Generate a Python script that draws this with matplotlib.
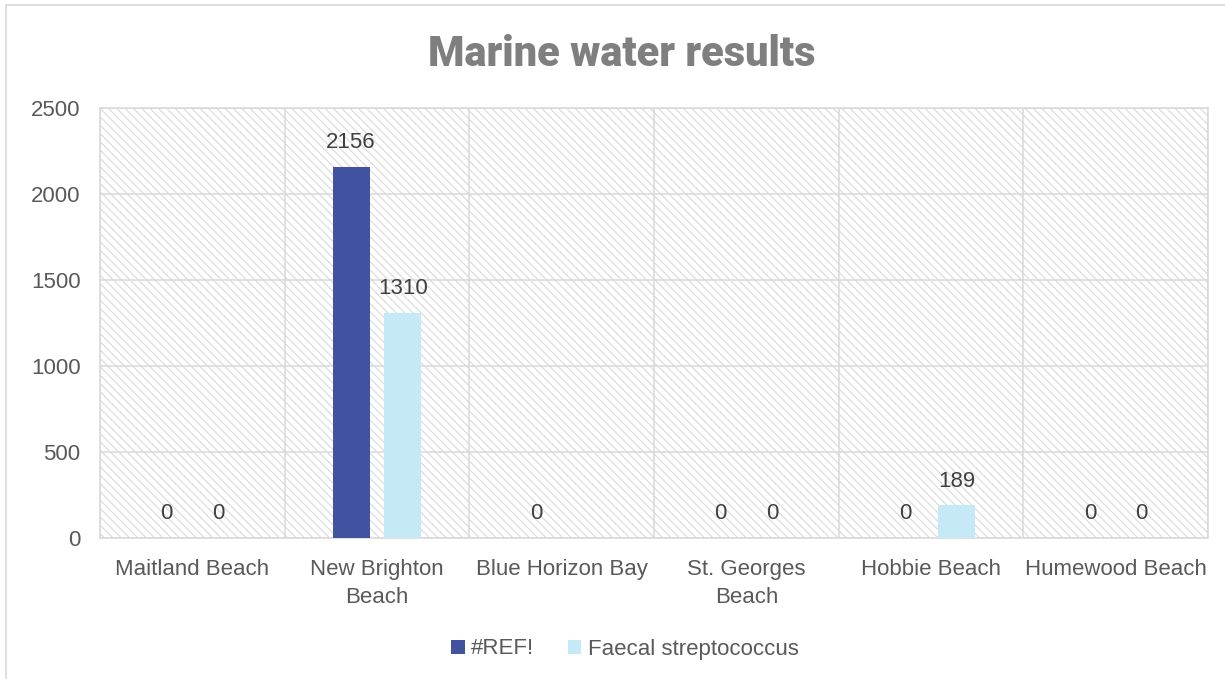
import matplotlib
matplotlib.use("Agg")
import matplotlib.pyplot as plt
from matplotlib.patches import Rectangle, Patch
import numpy as np

# Chart data
beaches = ["Maitland Beach", "New Brighton\nBeach", "Blue Horizon Bay",
           "St. Georges\nBeach", "Hobbie Beach", "Humewood Beach"]
series_names = ["#REF!", "Faecal streptococcus"]
ref_values = [0, 2156, 0, 0, 0, 0]
faecal_values = [0, 1310, np.nan, 0, 189, 0]
y_ticks = [0, 500, 1000, 1500, 2000, 2500]

dark_blue = "#4152a0"
light_blue = "#c5e9f6"
grid_gray = "#d9d9d9"
text_gray = "#595959"
fs = 16

plt.rcParams["font.family"] = ["Liberation Sans", "DejaVu Sans"]
plt.rcParams["hatch.linewidth"] = 0.8

fig = plt.figure(figsize=(12.25, 6.79), dpi=100)
ax = fig.add_axes([100 / 1225, 1 - 538 / 679, 1108 / 1225, 430 / 679])

# Outer chart frame
fig.patches.append(Rectangle((6 / 1225, -0.01), 1.02, 1 - 5 / 679 + 0.01,
                             transform=fig.transFigure, fill=False,
                             edgecolor=grid_gray, linewidth=1.2, zorder=0))

# Hatched plot area
ax.add_patch(Rectangle((0, 0), 1, 1, transform=ax.transAxes, fill=False,
                       hatch="\\\\\\\\", edgecolor=grid_gray, linewidth=0,
                       zorder=0))

x = np.arange(len(beaches))
width = 0.2
offset = 0.14
series = [ref_values, faecal_values]
colors = [dark_blue, light_blue]
for i, (vals, col) in enumerate(zip(series, colors)):
    xs = x + (-offset if i == 0 else offset)
    vals_arr = np.array(vals, dtype=float)
    ax.bar(xs, np.nan_to_num(vals_arr), width=width, color=col, zorder=3,
           linewidth=0)
    for xi, v in zip(xs, vals_arr):
        if np.isnan(v):
            continue
        ax.annotate(f"{int(v)}", (xi, v), xytext=(0, 17.5),
                    textcoords="offset points", ha="center", va="center",
                    fontsize=fs, color="#404040", zorder=4)

ax.set_xlim(-0.5, len(beaches) - 0.5)
ax.set_ylim(0, 2500)
ax.set_yticks(y_ticks)
ax.set_xticks(x)
ax.set_xticklabels(beaches, linespacing=1.45)
ax.set_xticks(np.arange(len(beaches) + 1) - 0.5, minor=True)

ax.tick_params(axis="both", which="both", length=0, labelsize=fs,
               labelcolor=text_gray)
ax.tick_params(axis="y", pad=14)
ax.tick_params(axis="x", pad=15)

ax.grid(axis="y", which="major", color=grid_gray, linewidth=1.1, zorder=1)
ax.grid(axis="x", which="minor", color=grid_gray, linewidth=1.1, zorder=1)
ax.grid(axis="x", which="major", visible=False)
ax.set_axisbelow(True)
for sp in ax.spines.values():
    sp.set_color(grid_gray)
    sp.set_linewidth(1.1)

fig.text(622 / 1225, 1 - 54 / 679, "Marine water results",
         ha="center", va="center", fontsize=30, fontweight="heavy",
         family=["Roboto", "DejaVu Sans"], color="#7f7f7f")

handles = [Patch(facecolor=c, edgecolor="none") for c in colors]
fig.legend(handles, series_names, loc="center",
           bbox_to_anchor=(625 / 1225, 1 - 649 / 679), ncol=2, frameon=False,
           fontsize=fs, labelcolor=text_gray, handlelength=0.6,
           handleheight=0.6, handletextpad=0.3, columnspacing=1.5)

fig.savefig("out.png", dpi=100)
